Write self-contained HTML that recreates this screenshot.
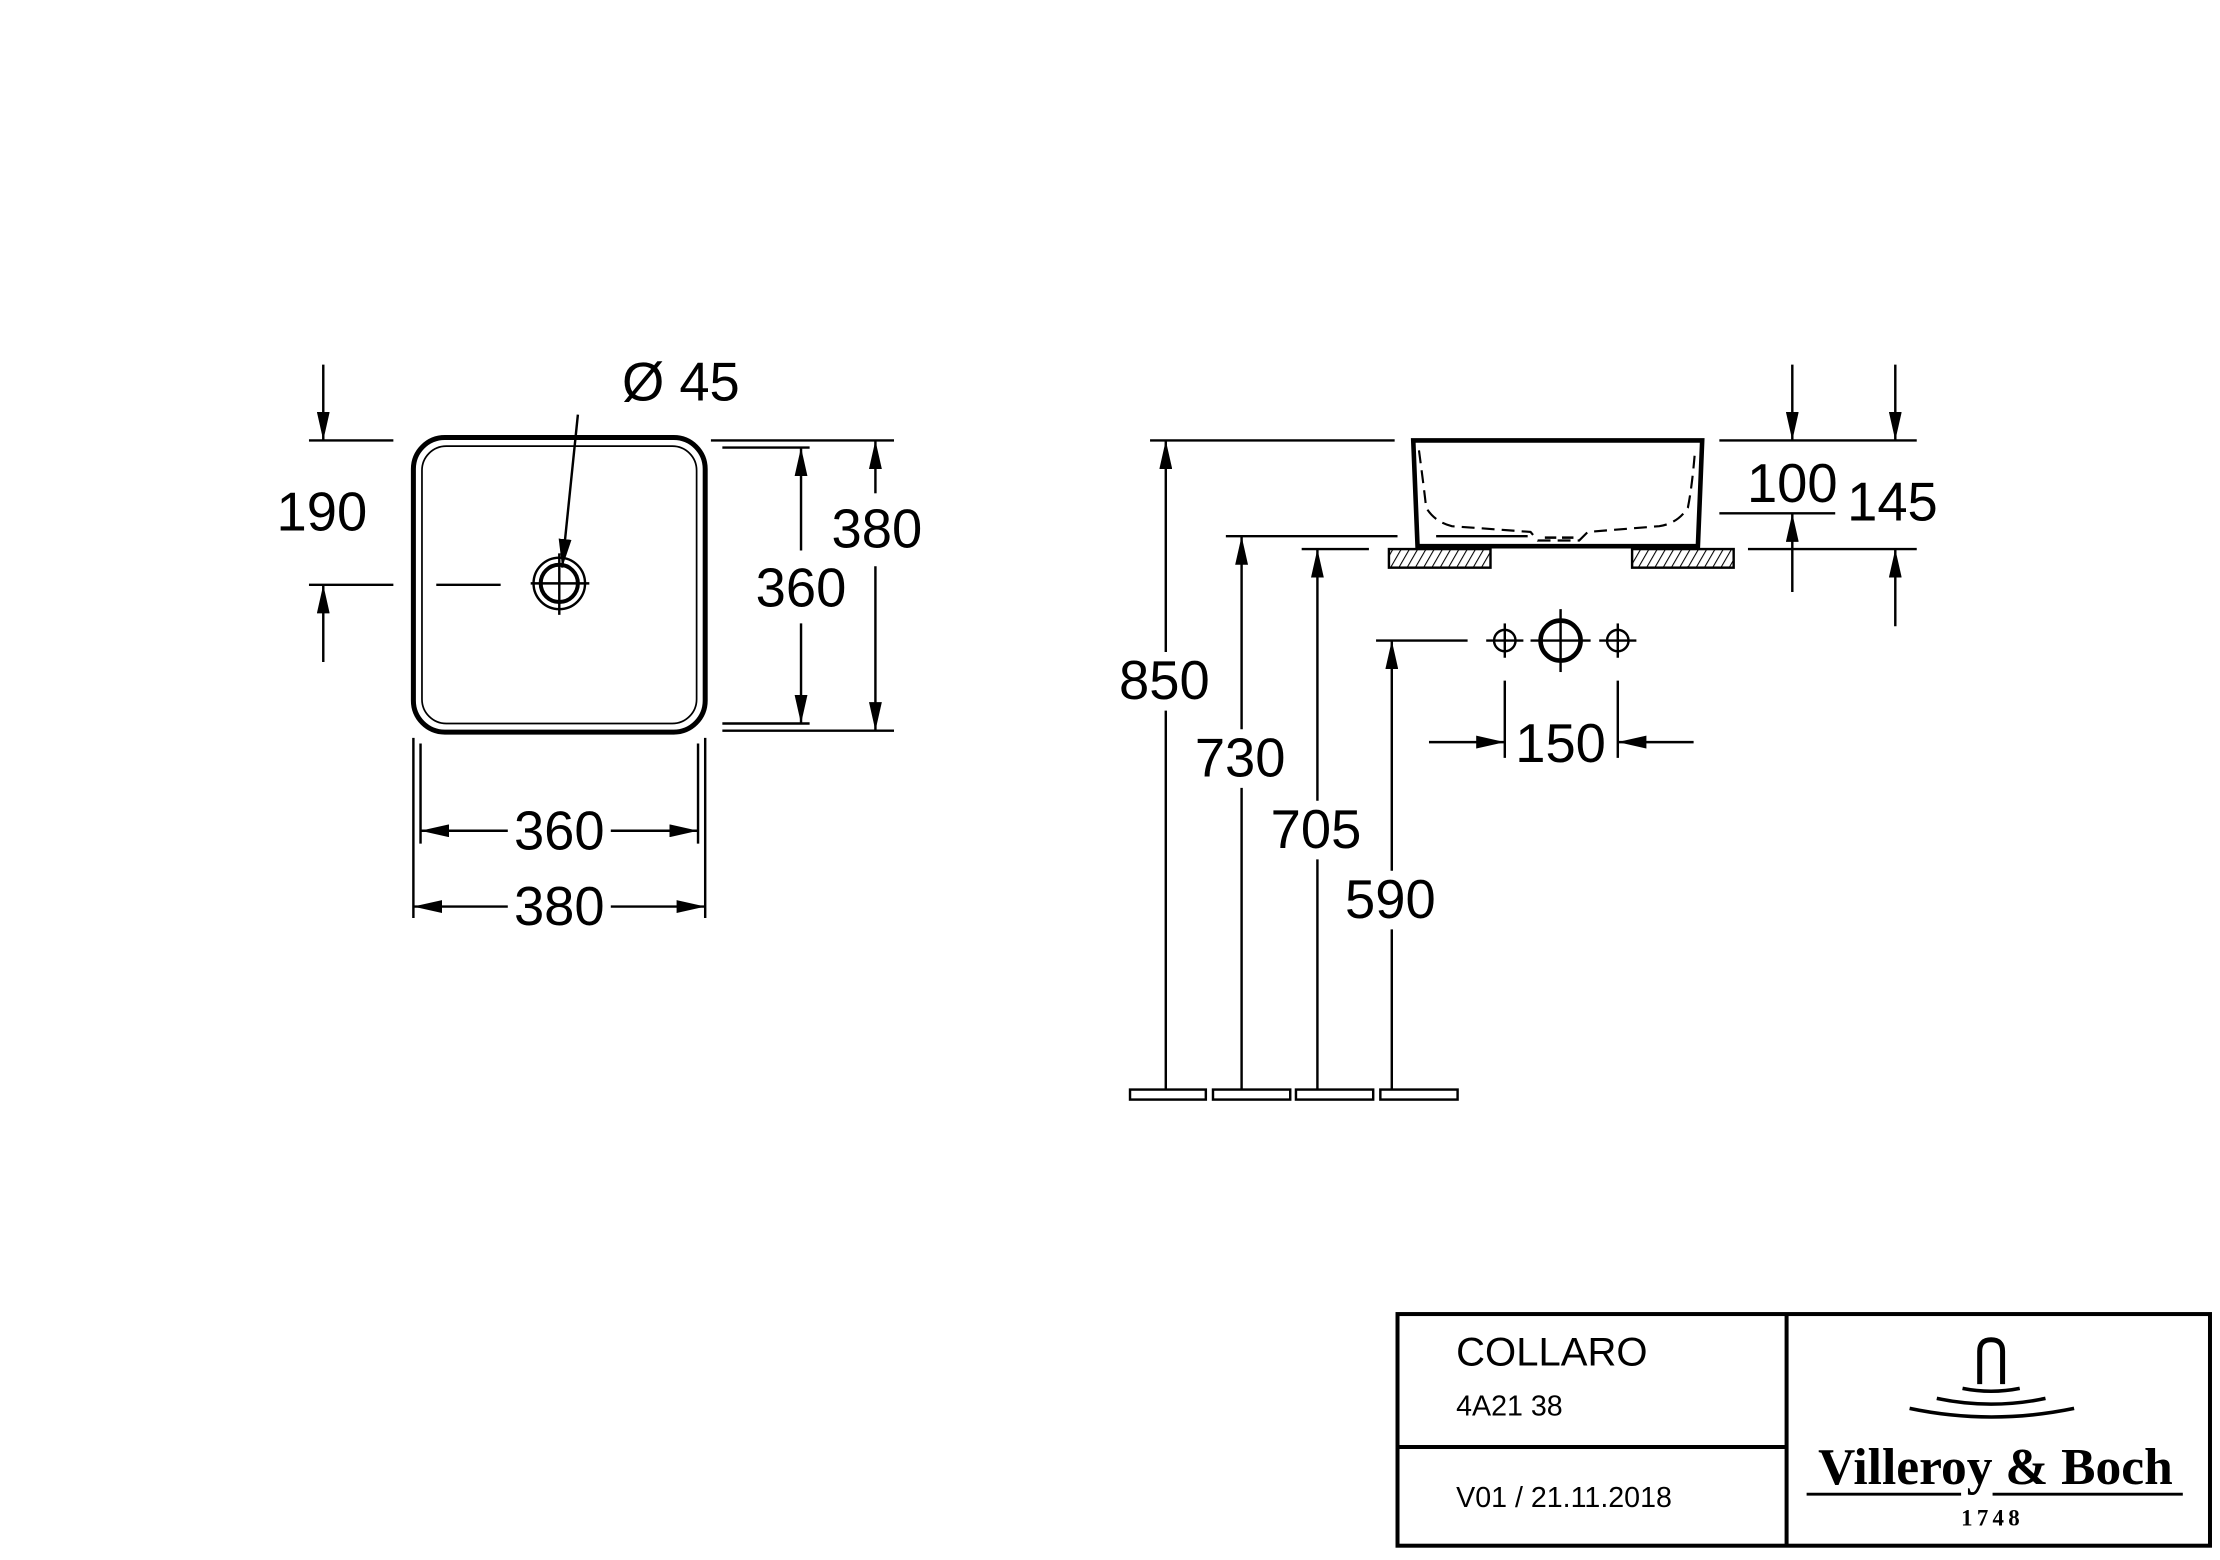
<!DOCTYPE html>
<html><head><meta charset="utf-8"><style>
html,body{margin:0;padding:0;background:#fff;}
svg{display:block;}
text{font-family:"Liberation Sans",Arial,sans-serif;fill:#000;}
</style></head><body>
<svg width="2220" height="1560" viewBox="0 0 1552 1091" preserveAspectRatio="none" xmlns="http://www.w3.org/2000/svg">
<defs>
<marker id="a" viewBox="0 0 20 9" refX="20" refY="4.5" markerWidth="20" markerHeight="9" markerUnits="userSpaceOnUse" orient="auto-start-reverse"><path d="M0,0 L20,4.5 L0,9 z" fill="#000"/></marker>
<pattern id="h" width="5" height="5" patternUnits="userSpaceOnUse" patternTransform="rotate(30)"><line x1="0" y1="0" x2="0" y2="5" stroke="#000" stroke-width="1.5"/></pattern>
</defs>
<g stroke="#000" fill="none" stroke-width="1.7">
<!-- plan view -->
<rect x="289" y="306" width="204" height="206" rx="22" stroke-width="3.5"/>
<rect x="295" y="312" width="192" height="194" rx="17" stroke-width="1.2"/>
<circle cx="391" cy="408" r="18"/>
<circle cx="391" cy="408" r="13" stroke-width="2.8"/>
<line x1="371" y1="408" x2="412" y2="408"/>
<line x1="391" y1="387" x2="391" y2="430"/>
<line x1="305" y1="409" x2="350" y2="409"/>
<line x1="216" y1="308" x2="275" y2="308"/>
<line x1="216" y1="409" x2="275" y2="409"/>
<line x1="226" y1="255" x2="226" y2="308" marker-end="url(#a)"/>
<line x1="226" y1="463" x2="226" y2="409" marker-end="url(#a)"/>
<line x1="404" y1="290" x2="393" y2="397" marker-end="url(#a)"/>
<line x1="497" y1="308" x2="625" y2="308"/>
<line x1="505" y1="313" x2="566" y2="313"/>
<line x1="505" y1="506" x2="566" y2="506"/>
<line x1="505" y1="511" x2="625" y2="511"/>
<line x1="560" y1="385" x2="560" y2="313" marker-end="url(#a)"/>
<line x1="560" y1="436" x2="560" y2="506" marker-end="url(#a)"/>
<line x1="612" y1="345" x2="612" y2="308" marker-end="url(#a)"/>
<line x1="612" y1="396" x2="612" y2="511" marker-end="url(#a)"/>
<line x1="289" y1="516" x2="289" y2="642"/>
<line x1="493" y1="516" x2="493" y2="642"/>
<line x1="294" y1="520" x2="294" y2="590"/>
<line x1="488" y1="520" x2="488" y2="590"/>
<line x1="355" y1="581" x2="294" y2="581" marker-end="url(#a)"/>
<line x1="427" y1="581" x2="488" y2="581" marker-end="url(#a)"/>
<line x1="355" y1="634" x2="289" y2="634" marker-end="url(#a)"/>
<line x1="427" y1="634" x2="493" y2="634" marker-end="url(#a)"/>
<!-- side view basin -->
<path d="M988,308 L1190,308 L1187,382 L991,382 Z" stroke-width="3.2"/>
<path d="M992,315 Q996,345 997,355 Q1003,365 1015,368 L1070,372 L1075,378 L1104,378 L1110,372 L1160,368 Q1173,366 1180,355 Q1183,340 1185,315" stroke-width="1.5" stroke-dasharray="9,5"/>
<line x1="1080" y1="376" x2="1100" y2="376" stroke-dasharray="8,4"/>
<rect x="971" y="384" width="71" height="13" fill="url(#h)"/>
<rect x="1141" y="384" width="71" height="13" fill="url(#h)"/>
<line x1="804" y1="308" x2="975" y2="308"/>
<line x1="857" y1="375" x2="977" y2="375"/>
<line x1="1004" y1="375" x2="1068" y2="375"/>
<line x1="910" y1="384" x2="957" y2="384"/>
<line x1="962" y1="448" x2="1026" y2="448"/>
<line x1="815" y1="456" x2="815" y2="308" marker-end="url(#a)"/>
<line x1="815" y1="497" x2="815" y2="762"/>
<line x1="868" y1="510" x2="868" y2="375" marker-end="url(#a)"/>
<line x1="868" y1="551" x2="868" y2="762"/>
<line x1="921" y1="560" x2="921" y2="384" marker-end="url(#a)"/>
<line x1="921" y1="601" x2="921" y2="762"/>
<line x1="973" y1="609" x2="973" y2="448" marker-end="url(#a)"/>
<line x1="973" y1="650" x2="973" y2="762"/>
<rect x="790" y="762" width="53" height="7"/>
<rect x="848" y="762" width="54" height="7"/>
<rect x="906" y="762" width="54" height="7"/>
<rect x="965" y="762" width="54" height="7"/>
<!-- valves -->
<circle cx="1052" cy="448" r="7.5"/>
<circle cx="1091" cy="448" r="14" stroke-width="3.2"/>
<circle cx="1131" cy="448" r="7.5"/>
<line x1="1039" y1="448" x2="1065" y2="448"/>
<line x1="1070" y1="448" x2="1112" y2="448"/>
<line x1="1118" y1="448" x2="1144" y2="448"/>
<line x1="1052" y1="436" x2="1052" y2="460"/>
<line x1="1091" y1="426" x2="1091" y2="470"/>
<line x1="1131" y1="436" x2="1131" y2="460"/>
<line x1="1052" y1="476" x2="1052" y2="530"/>
<line x1="1131" y1="476" x2="1131" y2="530"/>
<line x1="999" y1="519" x2="1052" y2="519" marker-end="url(#a)"/>
<line x1="1184" y1="519" x2="1131" y2="519" marker-end="url(#a)"/>
<!-- right dims -->
<line x1="1202" y1="308" x2="1340" y2="308"/>
<line x1="1202" y1="359" x2="1283" y2="359"/>
<line x1="1222" y1="384" x2="1340" y2="384"/>
<line x1="1253" y1="255" x2="1253" y2="308" marker-end="url(#a)"/>
<line x1="1253" y1="414" x2="1253" y2="359" marker-end="url(#a)"/>
<line x1="1325" y1="255" x2="1325" y2="308" marker-end="url(#a)"/>
<line x1="1325" y1="438" x2="1325" y2="384" marker-end="url(#a)"/>
<!-- title block -->
<rect x="977" y="919" width="568" height="162" stroke-width="2.8"/>
<line x1="1249" y1="919" x2="1249" y2="1081" stroke-width="2.8"/>
<line x1="977" y1="1012" x2="1249" y2="1012" stroke-width="2.8"/>
<path d="M1384,968 L1384,945 Q1384,937 1392,937 Q1400,937 1400,945 L1400,968" stroke-width="3.5"/>
<path d="M1372,971 Q1392,975 1412,971" stroke-width="2.5"/>
<path d="M1354,978 Q1392,986 1430,978" stroke-width="2.5"/>
<path d="M1335,985 Q1392,997 1450,985" stroke-width="2.5"/>
<line x1="1263" y1="1045" x2="1371" y2="1045" stroke-width="2"/>
<line x1="1393" y1="1045" x2="1526" y2="1045" stroke-width="2"/>
</g>
<g font-size="38" text-anchor="middle">
<text x="225" y="371">190</text>
<text x="476" y="280">Ø 45</text>
<text x="560" y="424">360</text>
<text x="613" y="383">380</text>
<text x="391" y="594">360</text>
<text x="391" y="647">380</text>
<text x="814" y="489">850</text>
<text x="867" y="543">730</text>
<text x="920" y="593">705</text>
<text x="972" y="642">590</text>
<text x="1091" y="533">150</text>
<text x="1253" y="351">100</text>
<text x="1323" y="364">145</text>
</g>
<text x="1018" y="955" font-size="28">COLLARO</text>
<text x="1018" y="990" font-size="20">4A21 38</text>
<text x="1018" y="1054" font-size="20">V01 / 21.11.2018</text>
<text x="1395" y="1038" font-size="36" font-weight="bold" text-anchor="middle" style="font-family:'Liberation Serif',serif">Villeroy &amp; Boch</text>
<text x="1393" y="1067" font-size="16" font-weight="bold" text-anchor="middle" letter-spacing="3" style="font-family:'Liberation Serif',serif">1748</text>
</svg>
</body></html>
